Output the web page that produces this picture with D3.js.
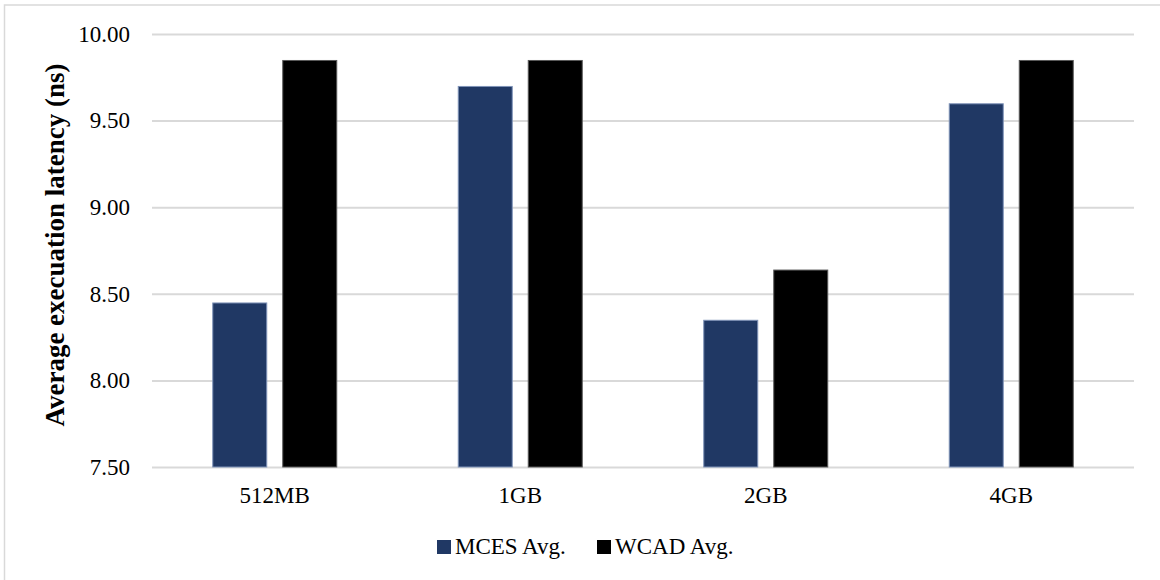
<!DOCTYPE html>
<html>
<head>
<meta charset="utf-8">
<script src="https://cdn.jsdelivr.net/npm/d3@7"></script>
<style>
  html, body { margin: 0; padding: 0; background: #fff; }
  svg { display: block; }
</style>
</head>
<body>
<svg id="chart" width="1160" height="580" font-family="Liberation Serif"></svg>
<script>
// Memory sizes on the x axis
const categories = ["512MB", "1GB", "2GB", "4GB"];
// Average execution latency (ns) per memory size
const mcesAvg = [8.45, 9.70, 8.35, 9.60];
const wcadAvg = [9.85, 9.85, 8.64, 9.85];
const seriesNames = ["MCES Avg.", "WCAD Avg."];
const seriesColors = ["#203864", "#000000"];
const seriesStrokes = ["#7f93b8", "#595959"];
const yTicks = [7.5, 8.0, 8.5, 9.0, 9.5, 10.0];

const FONT = "Liberation Serif";
const svg = d3.select("#chart");
const W = 1160, H = 580;
const plot = { left: 152, right: 1134, top: 34, bottom: 467 };

// Outer frame
svg.append("rect")
  .attr("x", 4.5).attr("y", 5)
  .attr("width", W + 10).attr("height", H + 10)
  .attr("fill", "none").attr("stroke", "#d9d9d9").attr("stroke-width", 1.5);

const x0 = d3.scaleBand().domain(categories).range([plot.left, plot.right]).padding(0);
const groupWidth = 125;
const x1 = d3.scaleBand().domain(seriesNames).range([0, groupWidth])
  .paddingInner(2 - groupWidth / 70).paddingOuter(0);
const y = d3.scaleLinear().domain([7.5, 10]).range([plot.bottom, plot.top]);

// Horizontal gridlines and tick labels
const yAxis = d3.axisLeft(y)
  .tickValues(yTicks)
  .tickFormat(d3.format(".2f"))
  .tickSize(-(plot.right - plot.left))
  .tickPadding(22);
const gy = svg.append("g")
  .attr("transform", `translate(${plot.left},0)`)
  .call(yAxis)
  .attr("font-family", FONT)
  .attr("font-size", 23);
gy.select(".domain").remove();
gy.selectAll(".tick line").attr("stroke", "#d9d9d9").attr("stroke-width", 2);
gy.selectAll(".tick text").attr("fill", "#000");

// Category labels
const xAxis = d3.axisBottom(x0).tickSize(0).tickPadding(20);
const gx = svg.append("g")
  .attr("transform", `translate(0,${plot.bottom})`)
  .call(xAxis)
  .attr("font-family", FONT)
  .attr("font-size", 23);
gx.select(".domain").remove();
gx.selectAll(".tick text").attr("fill", "#000");

// Bars
const rows = categories.map((c, i) => ({ cat: c, values: [mcesAvg[i], wcadAvg[i]] }));
const groups = svg.append("g").selectAll("g")
  .data(rows).join("g")
  .attr("transform", d => `translate(${x0(d.cat) + (x0.bandwidth() - groupWidth) / 2},0)`);
groups.selectAll("rect")
  .data(d => d.values.map((v, j) => ({ name: seriesNames[j], v, j })))
  .join("rect")
  .attr("x", d => x1(d.name) + 0.5)
  .attr("y", d => y(d.v) + 0.5)
  .attr("width", x1.bandwidth() - 1)
  .attr("height", d => y(7.5) - y(d.v) - 0.5)
  .attr("fill", d => seriesColors[d.j])
  .attr("stroke", d => seriesStrokes[d.j])
  .attr("stroke-width", 1);

// Y axis title
svg.append("text")
  .attr("transform", `translate(64,245) rotate(-90)`)
  .attr("text-anchor", "middle")
  .attr("font-family", FONT)
  .attr("font-size", 27)
  .attr("font-weight", "bold")
  .attr("fill", "#000")
  .text("Average execuation latency (ns)");

// Legend
const legendX = [437, 597];
const legend = svg.append("g");
seriesNames.forEach((name, i) => {
  const g = legend.append("g").attr("transform", `translate(${legendX[i]},0)`);
  g.append("rect")
    .attr("x", 0).attr("y", 540)
    .attr("width", 14).attr("height", 14)
    .attr("fill", seriesColors[i]);
  g.append("text")
    .attr("x", 18).attr("y", 554)
    .attr("font-family", FONT)
    .attr("font-size", 23)
    .attr("fill", "#000")
    .text(name);
});
</script>
</body>
</html>
